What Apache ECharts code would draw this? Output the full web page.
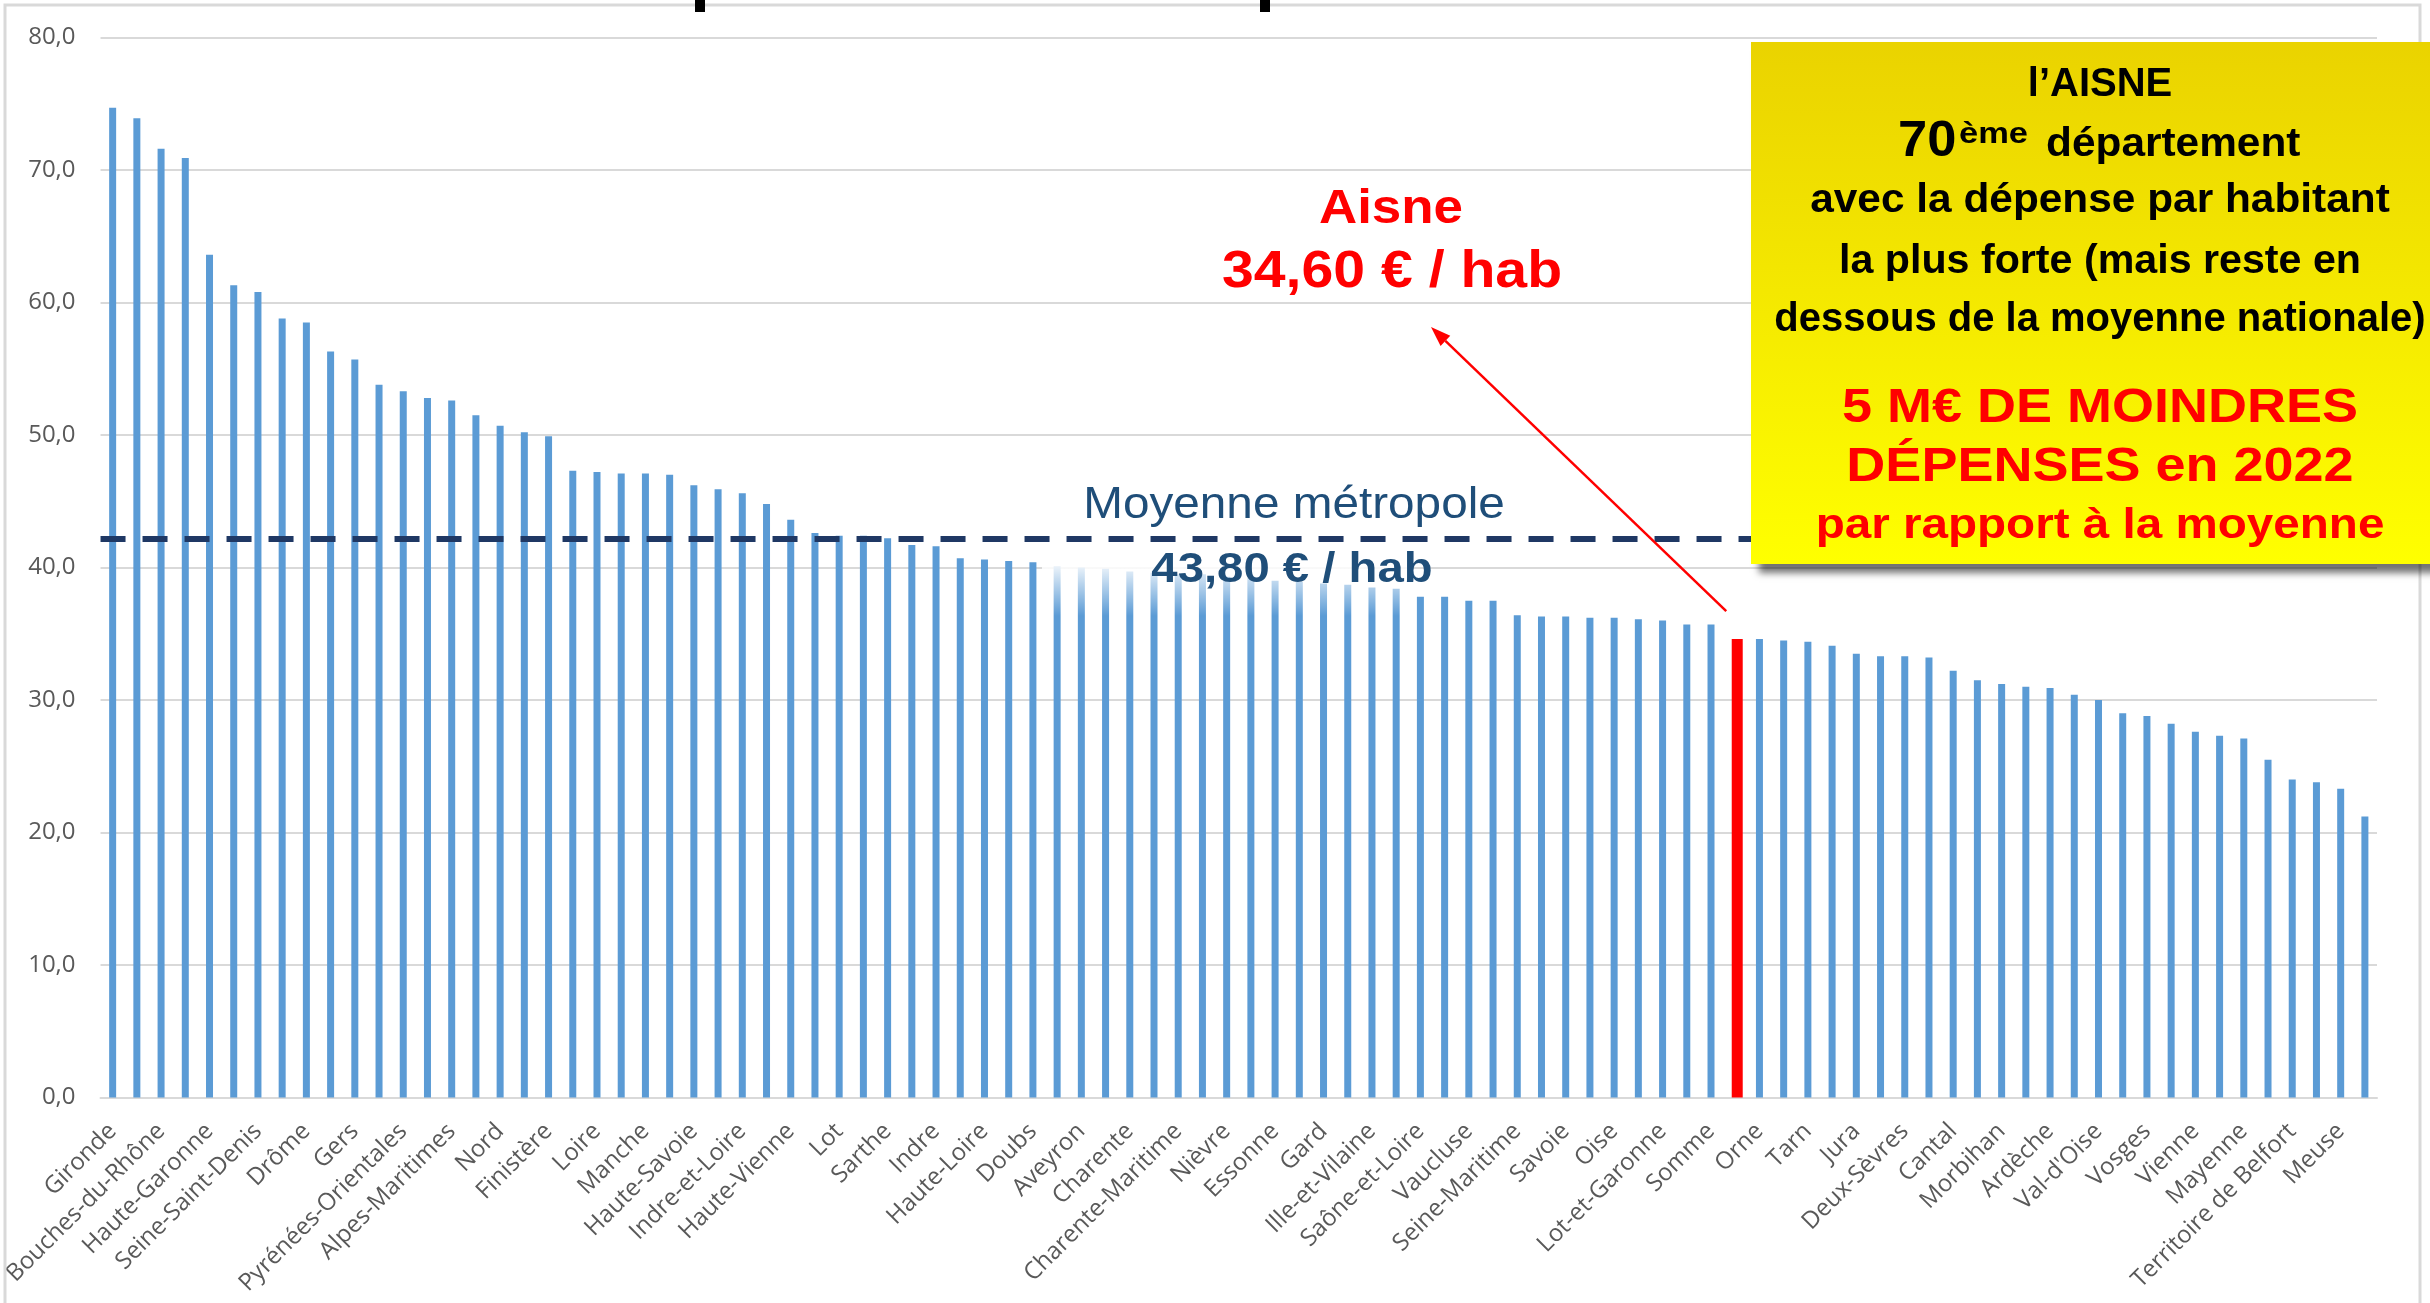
<!DOCTYPE html>
<html><head><meta charset="utf-8">
<script src="https://cdn.jsdelivr.net/npm/echarts/dist/echarts.min.js"></script>
<style>html,body{margin:0;padding:0;background:#fff;overflow:hidden}#c{width:2430px;height:1303px}</style>
</head><body><div id="c"></div><script>
// Départements (un libellé sur deux est affiché ; les libellés masqués sont estimés)
const categories = [
 "Gironde","Hauts-de-Seine","Bouches-du-Rhône","Rhône","Haute-Garonne","Val-de-Marne",
 "Seine-Saint-Denis","Hérault","Drôme","Var","Gers","Bas-Rhin","Pyrénées-Orientales",
 "Seine-et-Marne","Alpes-Maritimes","Pas-de-Calais","Nord","Isère","Finistère","Haut-Rhin",
 "Loire","Yvelines","Manche","Loire-Atlantique","Haute-Savoie","Moselle","Indre-et-Loire",
 "Puy-de-Dôme","Haute-Vienne","Pyrénées-Atlantiques","Lot","Meurthe-et-Moselle","Sarthe",
 "Côtes-d'Armor","Indre","Calvados","Haute-Loire","Maine-et-Loire","Doubs","Aude","Aveyron",
 "Dordogne","Charente","Landes","Charente-Maritime","Vendée","Nièvre","Marne","Essonne",
 "Côte-d'Or","Gard","Hautes-Pyrénées","Ille-et-Vilaine","Ariège","Saône-et-Loire","Ain",
 "Vaucluse","Loiret","Seine-Maritime","Eure","Savoie","Allier","Oise","Tarn-et-Garonne",
 "Lot-et-Garonne","Cher","Somme","Aisne","Orne","Corrèze","Tarn","Yonne","Jura","Eure-et-Loir",
 "Deux-Sèvres","Loir-et-Cher","Cantal","Ardennes","Morbihan","Aube","Ardèche","Haute-Saône",
 "Val-d'Oise","Haute-Marne","Vosges","Creuse","Vienne","Lozère","Mayenne",
 "Alpes-de-Haute-Provence","Territoire de Belfort","Hautes-Alpes","Meuse","Haute-Corse"
];
// Dépense par habitant (€)
const values = [
 74.7,73.9,71.6,70.9,63.6,61.3,60.8,58.8,58.5,56.3,
 55.7,53.8,53.3,52.8,52.6,51.5,50.7,50.2,49.9,47.3,
 47.2,47.1,47.1,47.0,46.2,45.9,45.6,44.8,43.6,42.6,
 42.4,42.4,42.2,41.7,41.6,40.7,40.6,40.5,40.4,40.1,
 40.0,39.9,39.7,39.6,39.5,39.5,39.3,39.2,39.0,38.9,
 38.8,38.7,38.5,38.4,37.8,37.8,37.5,37.5,36.4,36.3,
 36.3,36.2,36.2,36.1,36.0,35.7,35.7,34.6,34.6,34.5,
 34.4,34.1,33.5,33.3,33.3,33.2,32.2,31.5,31.2,31.0,
 30.9,30.4,30.0,29.0,28.8,28.2,27.6,27.3,27.1,25.5,
 24.0,23.8,23.3,21.2
];
const yMin = 0, yMax = 80, yStep = 10;
const highlightName = "Aisne";
const moyenneLigne = 42.2;          // position du trait pointillé
const moyenneTitre = "Moyenne métropole";
const moyenneTexte = "43,80 € / hab";
const aisneTitre = "Aisne";
const aisneTexte = "34,60 € / hab";
const encadreNoir = ["l’AISNE", "avec la dépense par habitant", "la plus forte (mais reste en", "dessous de la moyenne nationale)"];
const encadreRang = ["70", "ème", "département"];
const encadreRouge = ["5 M€ DE MOINDRES", "DÉPENSES en 2022", "par rapport à la moyenne"];

const hiIdx = categories.indexOf(highlightName);
const blueData = values.map((v, i) => i === hiIdx ? '-' : v);
const redData = values.map((v, i) => i === hiIdx ? v : '-');

const chart = echarts.init(document.getElementById('c'), null, {renderer: 'canvas'});
chart.setOption({
  animation: false,
  backgroundColor: '#ffffff',
  grid: {left: 100, right: 53, top: 37.5, bottom: 205.5, containLabel: false},
  xAxis: {
    type: 'category', data: categories,
    axisLine: {show: true, lineStyle: {color: '#D9D9D9', width: 2}},
    axisTick: {show: false},
    axisLabel: {interval: 1, rotate: 45, fontSize: 24, color: '#595959', fontFamily: 'Open Sans', margin: 30}
  },
  yAxis: {
    type: 'value', min: yMin, max: yMax, interval: yStep,
    axisLine: {show: false}, axisTick: {show: false},
    axisLabel: {fontSize: 24, color: '#595959', fontFamily: 'Open Sans', margin: 25,
      formatter: v => v.toFixed(1).replace('.', ',')},
    splitLine: {lineStyle: {color: '#D9D9D9', width: 2}}
  },
  series: [{
    name: highlightName, type: 'bar', data: redData, barWidth: 11, barGap: '-100%',
    itemStyle: {color: '#FF0000'}
  }, {
    name: 'Départements', type: 'bar', data: blueData, barWidth: 7, barGap: '-100%',
    itemStyle: {color: '#5B9BD5'},
    markLine: {
      silent: true, symbol: 'none', label: {show: false},
      lineStyle: {type: [25, 17], width: 6, color: '#1F3864'},
      data: [{yAxis: moyenneLigne}]
    }
  }]
});

// annotations
const pt = chart.convertToPixel({gridIndex: 0}, [hiIdx, values[hiIdx]]);
const tail = [pt[0] - 9, pt[1] - 28];
const head = [1431, 327];
const dx = head[0] - tail[0], dy = head[1] - tail[1];
const len = Math.sqrt(dx*dx + dy*dy);
const ux = dx/len, uy = dy/len, nx = -uy, ny = ux;
const L = 20, W = 7;
const bx = head[0] - ux*L, by = head[1] - uy*L;

function txt(x, y, text, size, weight, color, family, scaleX, align, scaleY) {
  return {
    type: 'text', x: x, y: y, z: 120, scaleX: scaleX || 1, scaleY: scaleY || 1,
    style: {
      text: text, fontSize: size, fontWeight: weight, fontFamily: family || 'Liberation Sans',
      fill: color, align: align || 'center', verticalAlign: 'middle',
      textAlign: align || 'center', textVerticalAlign: 'middle'
    }
  };
}

const cx = 2100;
const elements = [
  // cadre
  {type: 'rect', z: 50, shape: {x: 5, y: 5, width: 2415, height: 1320},
   style: {fill: 'none', stroke: '#D9D9D9', lineWidth: 3}},
  // fragments du titre coupé
  {type: 'rect', z: 130, shape: {x: 695, y: 0, width: 10, height: 12}, style: {fill: '#000'}},
  {type: 'rect', z: 130, shape: {x: 1260, y: 0, width: 10, height: 12}, style: {fill: '#000'}},
  // halo blanc derrière le texte de la moyenne
  {type: 'rect', z: 100, shape: {x: 1042, y: 542, width: 366, height: 74},
   style: {fill: {type: 'linear', x: 0, y: 0, x2: 0, y2: 1, colorStops: [
     {offset: 0, color: 'rgba(255,255,255,1)'},
     {offset: 0.35, color: 'rgba(255,255,255,0.85)'},
     {offset: 1, color: 'rgba(255,255,255,0)'}]}}},
  txt(1294, 506, moyenneTitre, 45, 'normal', '#1F4E79', 'Liberation Sans', 1.06),
  txt(1292, 570, moyenneTexte, 43, 'bold', '#1F4E79', 'Liberation Sans', 1.1),
  // flèche Aisne
  {type: 'line', z: 120, shape: {x1: tail[0], y1: tail[1], x2: bx, y2: by},
   style: {stroke: '#FF0000', lineWidth: 2.5}},
  {type: 'polygon', z: 120, shape: {points: [head, [bx + nx*W, by + ny*W], [bx - nx*W, by - ny*W]]},
   style: {fill: '#FF0000'}},
  txt(1391, 209, aisneTitre, 49, 'bold', '#FF0000', 'Liberation Sans', 1.08),
  txt(1392, 273, aisneTexte, 52, 'bold', '#FF0000', 'Liberation Sans', 1.1),
  // encadré jaune
  {type: 'rect', z: 110, shape: {x: 1751, y: 42, width: 720, height: 522},
   style: {fill: {type: 'linear', x: 0, y: 0, x2: 0, y2: 1, colorStops: [
     {offset: 0, color: '#EAD300'}, {offset: 1, color: '#FFFF00'}]},
     shadowColor: 'rgba(0,0,0,0.55)', shadowBlur: 7, shadowOffsetX: 8, shadowOffsetY: 9}},
  txt(cx, 85, encadreNoir[0], 40, 'bold', '#000000'),
  txt(1898, 142, encadreRang[0], 50, 'bold', '#000000', 'Liberation Sans', 1.05, 'left'),
  txt(1959, 135, encadreRang[1], 30, 'bold', '#000000', 'Liberation Sans', 1.15, 'left'),
  txt(2046, 144.5, encadreRang[2], 40, 'bold', '#000000', 'Liberation Sans', 1.06, 'left'),
  txt(cx, 201, encadreNoir[1], 40, 'bold', '#000000', 'Liberation Sans', 1.06),
  txt(cx, 262, encadreNoir[2], 40, 'bold', '#000000', 'Liberation Sans', 1.03),
  txt(cx, 319.5, encadreNoir[3], 40, 'bold', '#000000'),
  txt(cx, 409, encadreRouge[0], 45, 'bold', '#FF0000', 'Liberation Sans', 1.2, 'center', 1.06),
  txt(cx, 468, encadreRouge[1], 45, 'bold', '#FF0000', 'Liberation Sans', 1.2, 'center', 1.06),
  txt(cx, 527, encadreRouge[2], 40, 'bold', '#FF0000', 'Liberation Sans', 1.19, 'center', 1.04)
];
chart.setOption({graphic: {elements: elements}});
</script></body></html>
